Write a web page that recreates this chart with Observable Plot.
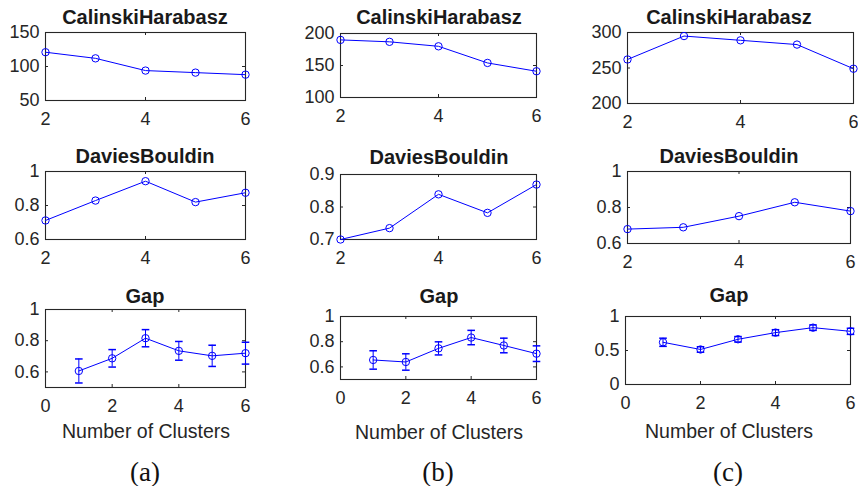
<!DOCTYPE html>
<html>
<head>
<meta charset="utf-8">
<script src="https://cdn.jsdelivr.net/npm/d3@7"></script>
<script src="https://cdn.jsdelivr.net/npm/@observablehq/plot@0.6"></script>
<style>
  html, body { margin: 0; padding: 0; background: #fff; overflow: hidden; }
  #root { position: relative; width: 858px; height: 486px; background: #fff; }
  .abs { position: absolute; }
  .lbl { position: absolute; transform: translate(-50%, -50%); white-space: nowrap; color: #1a1a1a; }
  .title { font-family: "Liberation Sans", Arial, sans-serif; font-weight: bold; font-size: 20px; }
  .xlab { font-family: "Liberation Sans", Arial, sans-serif; font-size: 19.5px; color: #262626; }
  .cap { font-family: "Liberation Serif", "Times New Roman", serif; font-size: 27px; color: #111; }
</style>
</head>
<body>
<div id="root"></div>
<script>
// ---- data ----
const ks = [2, 3, 4, 5, 6];
const gapK = [1, 2, 3, 4, 5, 6];

const chA = [121, 112, 94, 91, 88];
const chB = [190, 187, 180, 154, 141];
const chC = [262, 295, 289, 283, 249];

const dbA = [0.712, 0.829, 0.943, 0.820, 0.875];
const dbB = [0.700, 0.735, 0.839, 0.782, 0.869];
const dbC = [0.680, 0.690, 0.752, 0.829, 0.780];

const gapA = [0.606, 0.687, 0.816, 0.735, 0.703, 0.720];
const errA = [0.077, 0.056, 0.055, 0.060, 0.068, 0.070];
const gapB = [0.655, 0.639, 0.747, 0.833, 0.770, 0.705];
const errB = [0.073, 0.065, 0.052, 0.057, 0.058, 0.062];
const gapC = [0.621, 0.515, 0.665, 0.763, 0.836, 0.782];
const errC = [0.060, 0.040, 0.040, 0.043, 0.040, 0.045];

const titles = ["CalinskiHarabasz", "DaviesBouldin", "Gap"];
const xLabel = "Number of Clusters";
const captions = ["(a)", "(b)", "(c)"];

const chTicks = [[50, 100, 150], [100, 150, 200], [200, 250, 300]];
const chDomains = [[50, 150], [100, 200], [200, 300]];
const dbTicks = [[0.6, 0.8, 1], [0.7, 0.8, 0.9], [0.6, 0.8, 1]];
const dbDomains = [[0.6, 1], [0.7, 0.9], [0.6, 1]];
const gapTicks = [[0.6, 0.8, 1], [0.6, 0.8, 1], [0, 0.5, 1]];
const gapDomains = [[0.5, 1], [0.5, 1], [0, 1]];
const kTicks = [2, 4, 6];
const gapKTicks = [0, 2, 4, 6];

// ---- layout (plot box edges in page pixels) ----
const boxes = [
  [[45, 32, 245, 100], [340, 33, 536, 97], [627, 32, 853, 103]],
  [[45, 171, 245, 239], [340, 174, 536, 239], [627, 171, 850, 243]],
  [[45, 309, 245, 387], [340, 316, 536, 379], [625, 316, 850, 384]]
];
const titlePos = [[[145, 17], [439, 17], [729, 17]], [[145, 156], [439, 157], [729, 156]], [[145, 296], [439, 296], [729, 295]]];
const xlabPos = [[146, 431], [439, 432], [729, 431]];
const capPos = [[145, 472], [438, 472], [728, 472]];

const BLUE = "#0000ff";
const AX = "#262626";
const fmt = d => String(+d.toFixed(3));
const hbar = {
  draw(context, size) {
    const r = Math.sqrt(size / Math.PI);
    context.moveTo(-r, 0);
    context.lineTo(r, 0);
  }
};

const root = document.getElementById("root");

function panel(box, xDomain, xTicks, yDomain, yTicks, xs, ys, errs) {
  const [L, T, R, B] = box;
  const w = R - L, h = B - T;
  const mL = 52, mR = 14, mT = 6, mB = 34;
  const data = xs.map((x, i) => ({x, y: ys[i], e: errs ? errs[i] : 0}));
  const marks = [
    Plot.tickX(xTicks, {x: d => d, insetTop: h - 3, stroke: AX}),
    Plot.tickX(xTicks, {x: d => d, insetBottom: h - 3, stroke: AX}),
    Plot.tickY(yTicks, {y: d => d, insetLeft: w - 3, stroke: AX}),
    Plot.tickY(yTicks, {y: d => d, insetRight: w - 3, stroke: AX}),
    Plot.frame({stroke: AX, strokeWidth: 1.1}),
    Plot.axisX({ticks: xTicks, tickSize: 0, tickPadding: 12, tickFormat: fmt, label: null, fontSize: 18, fill: AX}),
    Plot.axisY({ticks: yTicks, tickSize: 0, tickPadding: 6, tickFormat: fmt, label: null, fontSize: 18, fill: AX})
  ];
  if (errs) {
    marks.push(
      Plot.ruleX(data, {x: "x", y1: d => d.y - d.e, y2: d => d.y + d.e, stroke: BLUE, strokeWidth: 1}),
      Plot.dot(data, {x: "x", y: d => d.y - d.e, symbol: hbar, r: 3.8, stroke: BLUE, fill: "none"}),
      Plot.dot(data, {x: "x", y: d => d.y + d.e, symbol: hbar, r: 3.8, stroke: BLUE, fill: "none"})
    );
  }
  marks.push(
    Plot.line(data, {x: "x", y: "y", stroke: BLUE, strokeWidth: 1}),
    Plot.dot(data, {x: "x", y: "y", r: 3.7, stroke: BLUE, fill: "none", strokeWidth: 1})
  );
  const svg = Plot.plot({
    width: w + mL + mR,
    height: h + mT + mB,
    marginLeft: mL, marginRight: mR, marginTop: mT, marginBottom: mB,
    style: {background: "transparent", fontFamily: "'Liberation Sans', Arial, sans-serif", fontSize: "18px", color: AX, overflow: "visible", maxWidth: "none"},
    x: {domain: xDomain},
    y: {domain: yDomain},
    marks
  });
  const div = document.createElement("div");
  div.className = "abs";
  div.style.left = (L - mL) + "px";
  div.style.top = (T - mT) + "px";
  div.appendChild(svg);
  root.appendChild(div);
}

function label(text, cls, pos) {
  const d = document.createElement("div");
  d.className = "lbl " + cls;
  d.textContent = text;
  d.style.left = pos[0] + "px";
  d.style.top = pos[1] + "px";
  root.appendChild(d);
}

const chAll = [chA, chB, chC];
const dbAll = [dbA, dbB, dbC];
const gapAll = [gapA, gapB, gapC];
const errAll = [errA, errB, errC];

for (let c = 0; c < 3; c++) {
  panel(boxes[0][c], [2, 6], kTicks, chDomains[c], chTicks[c], ks, chAll[c]);
  panel(boxes[1][c], [2, 6], kTicks, dbDomains[c], dbTicks[c], ks, dbAll[c]);
  panel(boxes[2][c], [0, 6], gapKTicks, gapDomains[c], gapTicks[c], gapK, gapAll[c], errAll[c]);
  for (let r = 0; r < 3; r++) label(titles[r], "title", titlePos[r][c]);
  label(xLabel, "xlab", xlabPos[c]);
  label(captions[c], "cap", capPos[c]);
}
</script>
</body>
</html>
